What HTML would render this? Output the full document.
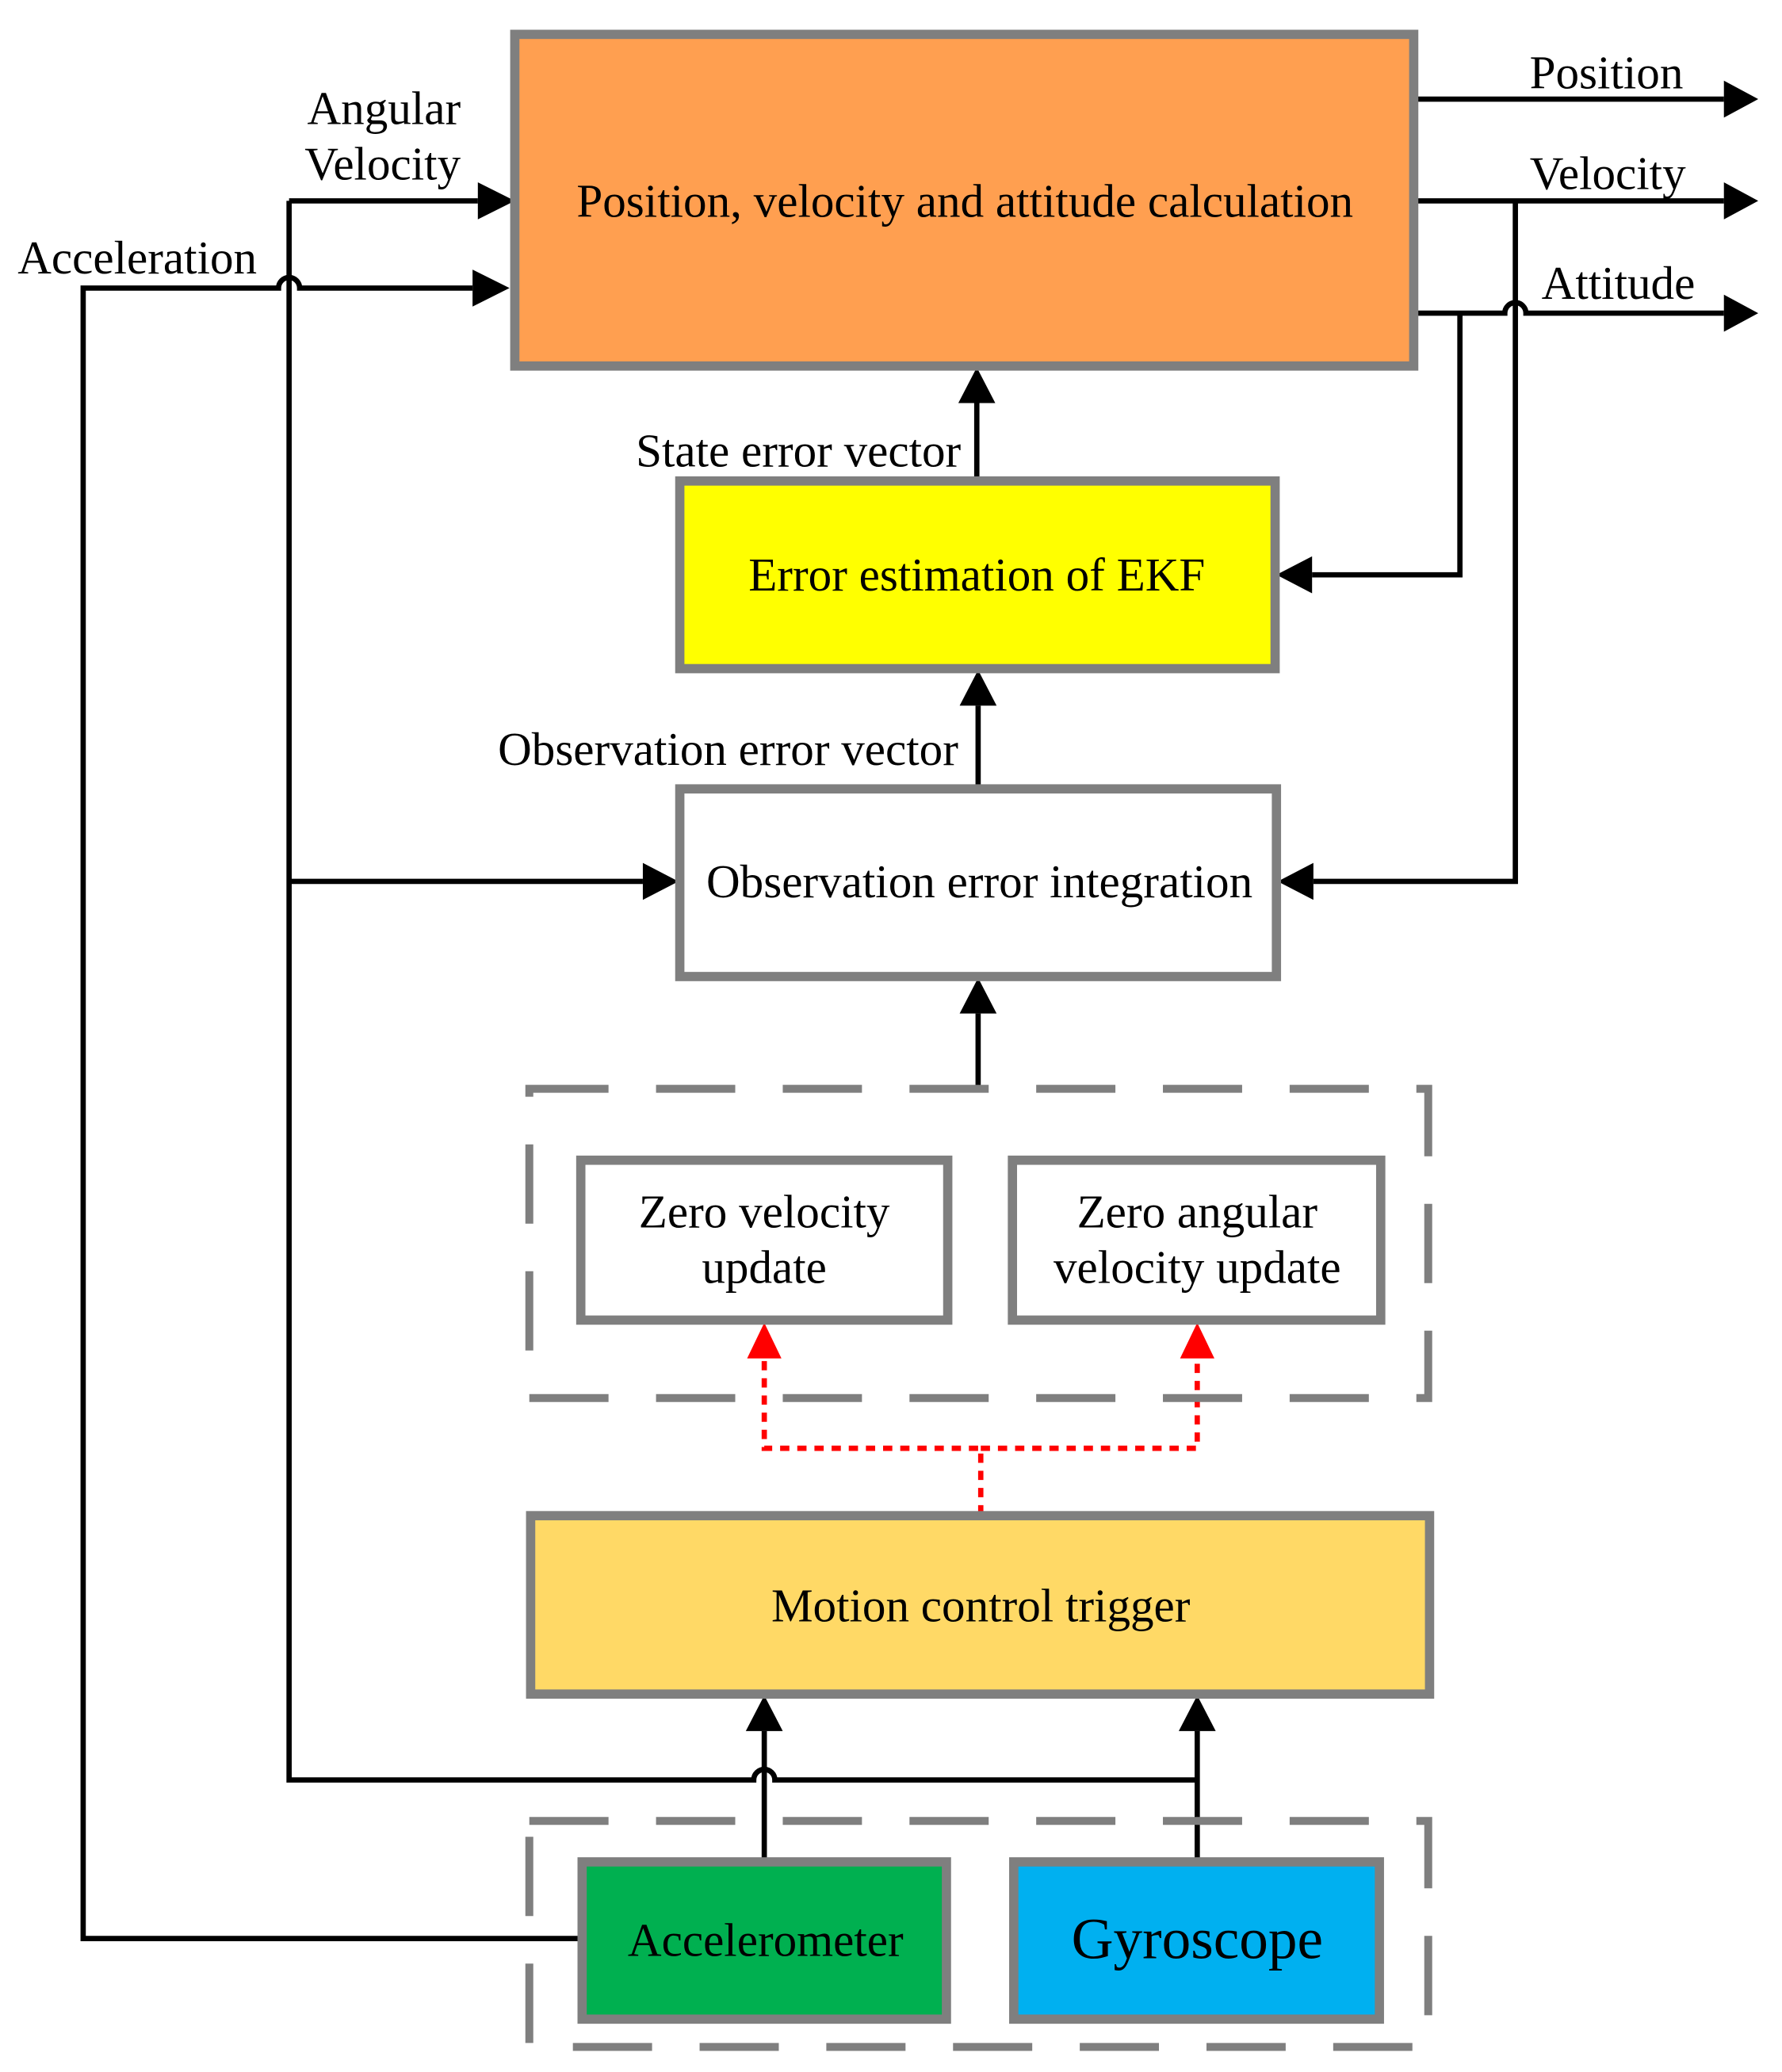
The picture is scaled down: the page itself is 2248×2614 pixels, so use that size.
<!DOCTYPE html>
<html><head><meta charset="utf-8"><style>html,body{margin:0;padding:0;background:#fff}svg{display:block}</style></head>
<body>
<svg width="2248" height="2614" viewBox="0 0 1350 1568" preserveAspectRatio="none" xmlns="http://www.w3.org/2000/svg" font-family="'Liberation Serif', serif">
<g fill="none" stroke="#000" stroke-width="4">
<path d="M1070,75 H1306"/><path d="M1306,61 L1332,75 L1306,89z" fill="#000" stroke="none"/>
<path d="M1070,152 H1306"/><path d="M1306,138 L1332,152 L1306,166z" fill="#000" stroke="none"/>
<path d="M1070,237 H1140 a8,8 0 0 1 16,0 H1306"/><path d="M1306,223 L1332,237 L1306,251z" fill="#000" stroke="none"/>
<path d="M1148,152 V667 H995"/><path d="M995,653 L968,667 L995,681z" fill="#000" stroke="none"/>
<path d="M1106,237 V435 H994"/><path d="M994,421 L967,435 L994,449z" fill="#000" stroke="none"/>
<path d="M740,363 V305"/><path d="M726,305 L740,278 L754,305z" fill="#000" stroke="none"/>
<path d="M741,596 V534"/><path d="M727,534 L741,507 L755,534z" fill="#000" stroke="none"/>
<path d="M741,823 V767"/><path d="M727,767 L741,740 L755,767z" fill="#000" stroke="none"/>
<path d="M579,1410 V1310"/><path d="M565,1310 L579,1283 L593,1310z" fill="#000" stroke="none"/>
<path d="M907,1410 V1310"/><path d="M893,1310 L907,1283 L921,1310z" fill="#000" stroke="none"/>
<path d="M219,152 H362"/><path d="M362,138 L390,152 L362,166z" fill="#000" stroke="none"/>
<path d="M219,152 V1347 H571 a8,8 0 0 1 16,0 H907"/>
<path d="M219,667 H487"/><path d="M487,653 L514,667 L487,681z" fill="#000" stroke="none"/>
<path d="M440,1467 H63 V218 H211 a8,8 0 0 1 16,0 H358"/><path d="M358,204 L386,218 L358,232z" fill="#000" stroke="none"/>
</g>
<g fill="none" stroke="#f00" stroke-width="4" stroke-dasharray="7,6">
<path d="M743,1146 V1096 H579 V1027"/><path d="M743,1096 H907 V1027"/>
</g>
<path d="M566,1028 L579,1001 L592,1028z" fill="#f00"/>
<path d="M894,1028 L907,1001 L920,1028z" fill="#f00"/>
<g fill="none" stroke="#7f7f7f" stroke-width="6" stroke-dasharray="60,36">
<rect x="401" y="824" width="681" height="234"/>
<rect x="401" y="1378" width="681" height="171"/>
</g>
<g stroke="#7f7f7f" stroke-width="7">
<rect x="390" y="26" width="681" height="251" fill="#FF9F50"/>
<rect x="515" y="364" width="451" height="142" fill="#FFFF00"/>
<rect x="515" y="597" width="452" height="142" fill="#fff"/>
<rect x="440" y="878" width="278" height="121" fill="#fff"/>
<rect x="767" y="878" width="279" height="121" fill="#fff"/>
<rect x="402" y="1147" width="681" height="135" fill="#FFD966"/>
<rect x="441" y="1409" width="276" height="119" fill="#00B050"/>
<rect x="768" y="1409" width="277" height="119" fill="#00B0F0"/>
</g>
<g font-size="35.5" fill="#000" text-anchor="middle">
<text x="731" y="164">Position, velocity and attitude calculation</text>
<text x="740" y="447">Error estimation of EKF</text>
<text x="742" y="679">Observation error integration</text>
<text x="579" y="929">Zero velocity</text><text x="579" y="971">update</text>
<text x="907" y="929">Zero angular</text><text x="907" y="971">velocity update</text>
<text x="743" y="1227">Motion control trigger</text>
<text x="580" y="1480">Accelerometer</text>
<text x="907" y="1482" font-size="44">Gyroscope</text>
<text x="1217" y="67">Position</text>
<text x="1218" y="143">Velocity</text>
<text x="1226" y="226">Attitude</text>
<text x="104" y="207">Acceleration</text>
</g>
<g font-size="35.5" fill="#000" text-anchor="end">
<text x="349" y="94">Angular</text>
<text x="349" y="136">Velocity</text>
<text x="728" y="353">State error vector</text>
<text x="726" y="579">Observation error vector</text>
</g>
</svg>
</body></html>
